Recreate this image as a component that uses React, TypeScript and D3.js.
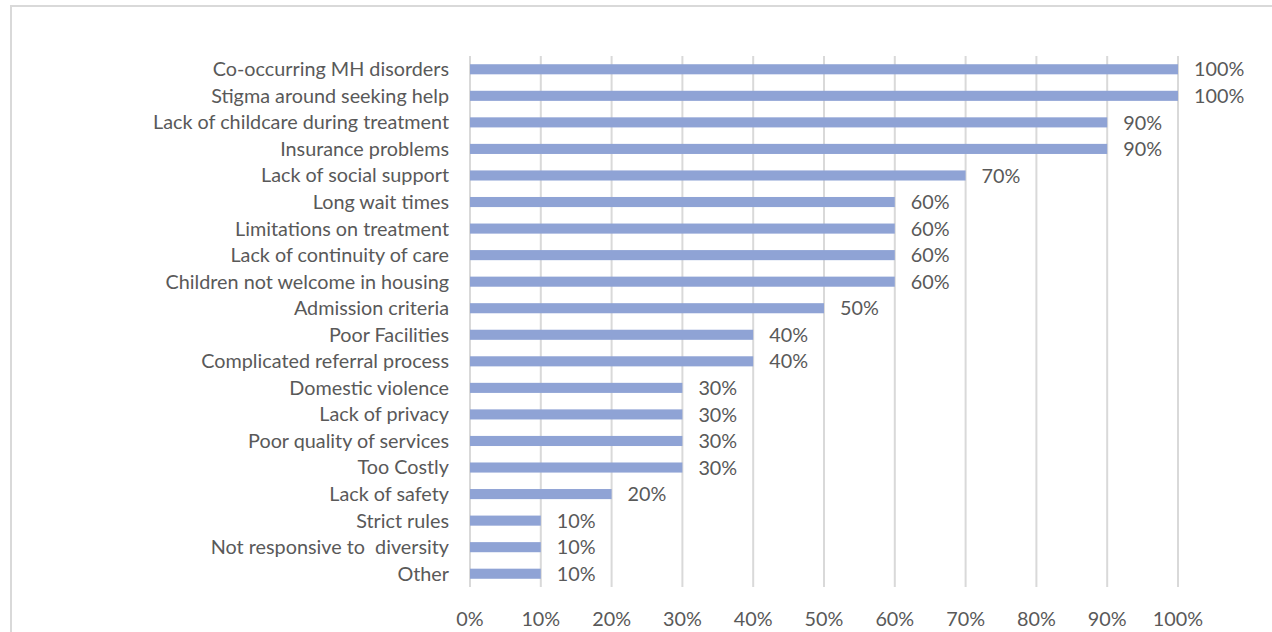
import React from "react";
import * as d3 from "d3";

// Barrier categories, top to bottom
const categories: string[] = [
  "Co-occurring MH disorders",
  "Stigma around seeking help",
  "Lack of childcare during treatment",
  "Insurance problems",
  "Lack of social support",
  "Long wait times",
  "Limitations on treatment",
  "Lack of continuity of care",
  "Children not welcome in housing",
  "Admission criteria",
  "Poor Facilities",
  "Complicated referral process",
  "Domestic violence",
  "Lack of privacy",
  "Poor quality of services",
  "Too Costly",
  "Lack of safety",
  "Strict rules",
  "Not responsive to  diversity",
  "Other",
];

// Share of respondents naming each barrier
const values: number[] = [
  1.0, 1.0, 0.9, 0.9, 0.7, 0.6, 0.6, 0.6, 0.6, 0.5,
  0.4, 0.4, 0.3, 0.3, 0.3, 0.3, 0.2, 0.1, 0.1, 0.1,
];

// Axis ticks
const tickValues: number[] = [0, 0.1, 0.2, 0.3, 0.4, 0.5, 0.6, 0.7, 0.8, 0.9, 1.0];

const W = 1272;
const H = 632;
const FONT = "Lato, 'Open Sans', sans-serif";
const TEXT = "#595959";
const BAR = "#8FA3D5";
const GRID = "#D9D9D9";

export default function App() {
  const left = 470;
  const right = 1178;
  const top = 56;
  const bottom = 587;

  const x = d3.scaleLinear().domain([0, 1]).range([left, right]);
  const y = d3
    .scaleBand<string>()
    .domain(categories)
    .range([top, bottom])
    .paddingInner(0.62)
    .paddingOuter(0.31);
  const pct = d3.format(".0%");
  const fs = 19.8;

  return (
    <svg
      width={W}
      height={H}
      style={{ position: "absolute", left: 0, top: 0, background: "#fff" }}
    >
      <rect x={0} y={0} width={W} height={H} fill="#fff" />
      {/* chart frame */}
      <rect x={11} y={6} width={W + 20} height={H + 20} fill="none" stroke={GRID} strokeWidth={2} />

      {/* vertical gridlines */}
      {tickValues.map((t) => (
        <line
          key={"g" + t}
          x1={x(t)}
          x2={x(t)}
          y1={top}
          y2={bottom}
          stroke={GRID}
          strokeWidth={2}
        />
      ))}

      {/* bars */}
      {categories.map((c, i) => (
        <rect
          key={"b" + c}
          x={x(0)}
          y={y(c)!}
          width={x(values[i]) - x(0)}
          height={y.bandwidth()}
          fill={BAR}
        />
      ))}

      {/* category labels */}
      {categories.map((c) => (
        <text
          key={"c" + c}
          x={left - 21}
          y={y(c)! + y.bandwidth() / 2}
          dy="0.35em"
          textAnchor="end"
          fontFamily={FONT}
          fontSize={fs}
          fill={TEXT}
          style={{ whiteSpace: "pre" }}
        >
          {c}
        </text>
      ))}

      {/* value labels */}
      {categories.map((c, i) => (
        <text
          key={"v" + c}
          x={x(values[i]) + 16}
          y={y(c)! + y.bandwidth() / 2}
          dy="0.36em"
          textAnchor="start"
          fontFamily={FONT}
          fontSize={fs}
          fill={TEXT}
        >
          {pct(values[i])}
        </text>
      ))}

      {/* x axis tick labels */}
      {tickValues.map((t) => (
        <text
          key={"t" + t}
          x={x(t)}
          y={626}
          textAnchor="middle"
          fontFamily={FONT}
          fontSize={fs}
          fill={TEXT}
        >
          {pct(t)}
        </text>
      ))}
    </svg>
  );
}
